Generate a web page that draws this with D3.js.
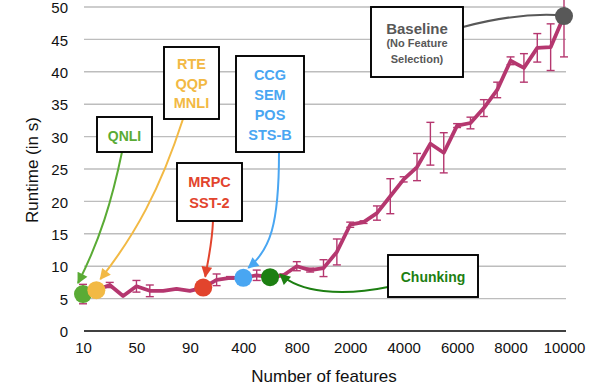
<!DOCTYPE html>
<html>
<head>
<meta charset="utf-8">
<script src="https://cdn.jsdelivr.net/npm/d3@7"></script>
<style>
  body { margin: 0; background: #fff; }
  svg { display: block; font-family: "Liberation Sans", Arial, Helvetica, sans-serif; }
</style>
</head>
<body>
<svg id="chart"></svg>
<script>
// number of features tried (x categories)
const features = ["10","20","30","40","50","60","70","80","90",
  "100","200","300","400","500","600","700","800",
  "900","1000","1500","2000","2500","3000","3500","4000",
  "4500","5000","5500","6000","6500","7000","7500","8000",
  "8500","9000","9500","10000"];
// runtime in seconds, mean and error
const runtime = [5.7, 6.3, 7.1, 5.4, 6.9, 6.2, 6.2, 6.5, 6.2,
  6.7, 7.9, 8.2, 8.2, 8.6, 8.3, 8.6, 10.0,
  9.4, 9.7, 12.2, 16.4, 16.8, 18.2, 20.8, 23.4,
  25.3, 28.9, 27.5, 31.7, 32.1, 34.4, 37.2, 41.7,
  40.6, 43.7, 43.8, 48.6];
const runtimeErr = [1.5, 0, 0.4, 0, 0.9, 0.9, 0, 0, 0,
  0, 0.9, 0.2, 0, 0.8, 0, 0.2, 0.7,
  0.3, 1.3, 2.0, 0.4, 0.2, 1.1, 2.7, 0.4,
  2.1, 3.3, 3.1, 0.3, 0.9, 1.3, 1.2, 0.6,
  2.2, 2.2, 3.6, 6.3];
const xTickLabels = ["10","50","90","400","800","2000","4000","6000","8000","10000"];
const yTicks = [0, 5, 10, 15, 20, 25, 30, 35, 40, 45, 50];

// tasks whose best setting is marked on the curve
const callTasks = [
  ["QNLI"],
  ["RTE", "QQP", "MNLI"],
  ["MRPC", "SST-2"],
  ["CCG", "SEM", "POS", "STS-B"],
  ["Chunking"],
  ["Baseline", "(No Feature", "Selection)"]
];
const callFeature = ["10", "20", "100", "400", "600", "10000"];
const callColor = ["#5aab35", "#f2b944", "#e2442d", "#49a6f2", "#1d7f12", "#585858"];

const width = 606, height = 392;
const svg = d3.select("#chart").attr("width", width).attr("height", height);

const x = d3.scalePoint().domain(features).range([83, 564]);
const y = d3.scaleLinear().domain([0, 50]).range([331, 7]);

// grid
svg.append("g").selectAll("line")
  .data(yTicks.filter(d => d > 0))
  .enter().append("line")
  .attr("x1", 84).attr("x2", 566)
  .attr("y1", d => y(d)).attr("y2", d => y(d))
  .attr("stroke", "#bdbdbd").attr("stroke-width", 1.4);

// y axis labels
const yAxis = svg.append("g").attr("transform", "translate(70,0)")
  .call(d3.axisLeft(y).tickValues(yTicks).tickSize(0).tickPadding(2));
yAxis.select(".domain").remove();
yAxis.selectAll("text").attr("font-size", 15).attr("fill", "#111").attr("dy", "0.38em")
  .attr("font-family", "Liberation Sans, Arial, sans-serif");

// x axis
const xAxis = svg.append("g").attr("transform", "translate(0,331)")
  .call(d3.axisBottom(x).tickValues(xTickLabels).tickSize(0).tickPadding(11));
xAxis.select(".domain").attr("d", "M84,0H566").attr("stroke", "#000").attr("stroke-width", 1.6);
xAxis.selectAll("text").attr("font-size", 15).attr("fill", "#111")
  .attr("font-family", "Liberation Sans, Arial, sans-serif");

svg.append("text").attr("x", 324).attr("y", 382).attr("text-anchor", "middle")
  .attr("font-size", 17).attr("fill", "#111").text("Number of features");
svg.append("text").attr("transform", "translate(38,170) rotate(-90)")
  .attr("text-anchor", "middle").attr("font-size", 17).attr("fill", "#111")
  .text("Runtime (in s)");

const lineColor = "#b5376f";
const pts = features.map((f, i) => ({f: f, v: runtime[i], e: runtimeErr[i]}));

// error bars
const eb = svg.append("g").attr("stroke", lineColor).attr("stroke-width", 1.4)
  .selectAll("g").data(pts.filter(d => d.e > 0)).enter().append("g");
eb.append("line").attr("x1", d => x(d.f)).attr("x2", d => x(d.f))
  .attr("y1", d => y(d.v - d.e)).attr("y2", d => y(d.v + d.e));
eb.append("line").attr("x1", d => x(d.f) - 4).attr("x2", d => x(d.f) + 4)
  .attr("y1", d => y(d.v - d.e)).attr("y2", d => y(d.v - d.e));
eb.append("line").attr("x1", d => x(d.f) - 4).attr("x2", d => x(d.f) + 4)
  .attr("y1", d => y(d.v + d.e)).attr("y2", d => y(d.v + d.e));

svg.append("path").datum(pts)
  .attr("fill", "none").attr("stroke", lineColor).attr("stroke-width", 3.8)
  .attr("stroke-linejoin", "round")
  .attr("d", d3.line().x(d => x(d.f)).y(d => y(d.v)));

// arrow heads
const defs = svg.append("defs");
callColor.forEach((c, i) => {
  defs.append("marker").attr("id", "arr" + i)
    .attr("viewBox", "0 0 10 10").attr("refX", 9).attr("refY", 5)
    .attr("markerWidth", 12).attr("markerHeight", 11)
    .attr("markerUnits", "userSpaceOnUse").attr("orient", "auto")
    .append("path").attr("d", "M0,0L10,5L0,10z").attr("fill", c);
});

// callout boxes: [left, top, right, bottom, first line y, line step, font size]
const boxes = [
  [97, 117, 152, 152, 141, 0, 14],
  [164, 47, 219, 119, 69, 19.5, 14.5],
  [177, 163, 242, 221, 187, 20.5, 14.5],
  [236, 56, 304, 152, 80, 20, 14.5],
  [388, 255, 478, 297, 282, 0, 14],
  [371, 7, 463, 77, 34, 15.5, 15]
];
// connector paths: start on box, two control points, end offset from dot
const links = [
  [[122, 152], [112, 200], [100, 240], [-5, -11]],
  [[183, 119], [160, 190], [135, 235], [4, -11]],
  [[213, 221], [212, 245], [208, 260], [2, -11]],
  [[279, 153], [279, 225], [270, 250], [5, -10]],
  [[388, 287], [340, 297], [300, 292], [10, -3]],
  [[463, 27], [500, 17], [530, 14], [-8, -1]]
];

callTasks.forEach((lines, i) => {
  const b = boxes[i], l = links[i];
  const px = x(callFeature[i]), py = y(runtime[features.indexOf(callFeature[i])]);
  const end = [px + l[3][0], py + l[3][1]];
  const p = d3.path();
  p.moveTo(l[0][0], l[0][1]);
  p.bezierCurveTo(l[1][0], l[1][1], l[2][0], l[2][1], end[0], end[1]);
  svg.append("path").attr("d", p.toString()).attr("fill", "none")
    .attr("stroke", callColor[i]).attr("stroke-width", 2)
    .attr("marker-end", i < 5 ? "url(#arr" + i + ")" : null);

  svg.append("rect").attr("x", b[0]).attr("y", b[1])
    .attr("width", b[2] - b[0]).attr("height", b[3] - b[1])
    .attr("fill", "#fff").attr("stroke", "#000").attr("stroke-width", 1.9);
  const cx = (b[0] + b[2]) / 2;
  lines.forEach((t, j) => {
    const small = i === 5 && j > 0;
    const ty = small ? b[4] + 13 + (j - 1) * b[5] : b[4] + j * b[5];
    svg.append("text").attr("x", cx).attr("y", ty).attr("text-anchor", "middle")
      .attr("font-size", small ? 11 : b[6]).attr("font-weight", "bold")
      .attr("fill", callColor[i]).text(t);
  });

  svg.append("circle").attr("cx", px).attr("cy", py).attr("r", 9)
    .attr("fill", callColor[i]);
});
</script>
</body>
</html>
